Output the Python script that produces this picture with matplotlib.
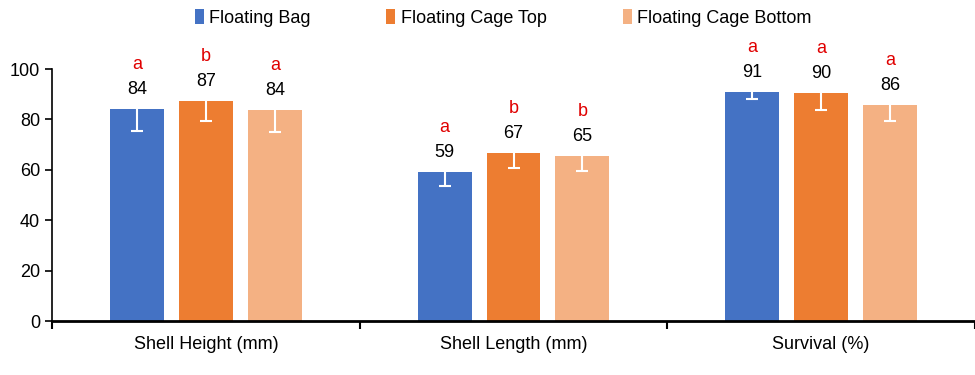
import matplotlib
matplotlib.use("Agg")
import matplotlib.pyplot as plt
import numpy as np
from matplotlib.patches import Patch

plt.rcParams['font.family'] = ['Liberation Sans', 'DejaVu Sans']

categories = ["Shell Height (mm)", "Shell Length (mm)", "Survival (%)"]
series = ["Floating Bag", "Floating Cage Top", "Floating Cage Bottom"]
bag = [84.1, 59.1, 90.9]
cage_top = [87.2, 66.7, 90.4]
cage_bottom = [83.7, 65.4, 85.7]
bag_err = [8.6, 5.5, 2.8]
cage_top_err = [7.8, 6.0, 6.8]
cage_bottom_err = [8.6, 6.0, 6.2]
bag_labels = ["84", "59", "91"]
cage_top_labels = ["87", "67", "90"]
cage_bottom_labels = ["84", "65", "86"]
bag_letters = ["a", "a", "a"]
cage_top_letters = ["b", "b", "a"]
cage_bottom_letters = ["a", "b", "a"]

colors = ["#4472C4", "#ED7D31", "#F4B183"]
FS = 13

fig = plt.figure(figsize=(9.75, 3.75), dpi=100)
ax = fig.add_axes([52/975, 54/375, 923/975, 252/375])

x = np.arange(len(categories))
width = 0.175
step = 0.224
data = [(bag, bag_err, bag_labels, bag_letters),
        (cage_top, cage_top_err, cage_top_labels, cage_top_letters),
        (cage_bottom, cage_bottom_err, cage_bottom_labels, cage_bottom_letters)]

for i, (vals, errs, labs, lets) in enumerate(data):
    pos = x + (i - 1) * step
    vals = np.array(vals)
    errs = np.array(errs)
    ax.bar(pos, vals, width, color=colors[i], label=series[i], zorder=2)
    ax.vlines(pos, vals - errs, vals, colors='white', linewidth=1.5, zorder=3)
    ax.plot(pos, vals - errs, linestyle='none', marker='_', markersize=9,
            markeredgewidth=1.5, color='white', zorder=3)
    for p, v, l, le in zip(pos, vals, labs, lets):
        ax.annotate(l, (p, v), xytext=(0, 14), textcoords='offset points',
                    ha='center', va='center', fontsize=FS, color='black',
                    annotation_clip=False)
        ax.annotate(le, (p, v), xytext=(0, 32), textcoords='offset points',
                    ha='center', va='center', fontsize=FS, color='#E00000',
                    annotation_clip=False)

ax.set_xlim(-0.5, 2.5)
ax.set_ylim(0, 100)
ax.set_yticks([0, 20, 40, 60, 80, 100])
ax.tick_params(axis='y', labelsize=FS, length=5, width=1.2, direction='out')
ax.set_xticks(x)
ax.set_xticklabels(categories, fontsize=FS)
ax.tick_params(axis='x', length=0, pad=11)
ax.set_xticks([-0.5, 0.5, 1.5, 2.5], minor=True)
ax.tick_params(axis='x', which='minor', length=6, width=1.5)

for s in ['top', 'right']:
    ax.spines[s].set_visible(False)
ax.spines['left'].set_linewidth(1.2)
ax.spines['bottom'].set_linewidth(2)

handles = [Patch(facecolor=c, edgecolor='none') for c in colors]
fig.legend(handles, series, loc='center', bbox_to_anchor=(503/975, 1 - 18/375),
           ncol=3, frameon=False, fontsize=FS, handlelength=0.5, handleheight=0.9,
           handletextpad=0.3, columnspacing=4.2)

fig.savefig("out.png", dpi=100)
